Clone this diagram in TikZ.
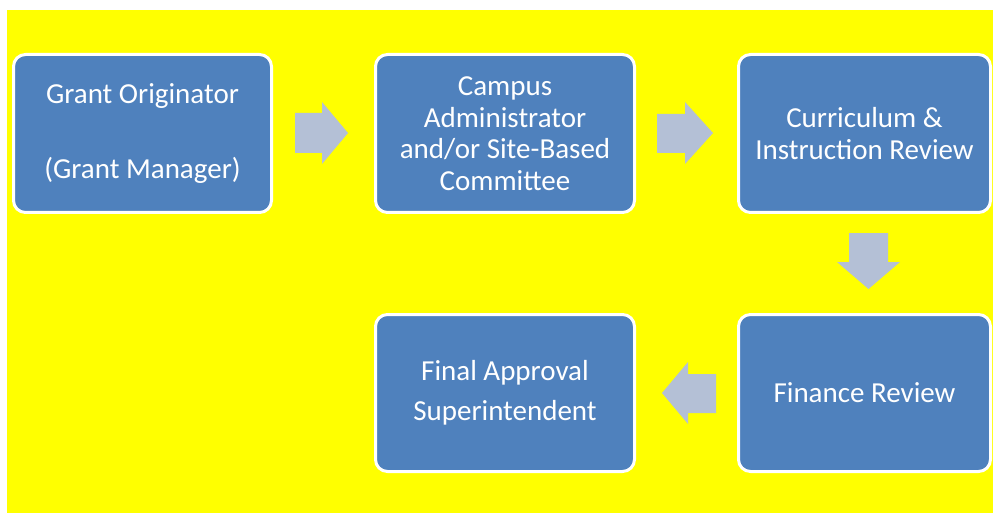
\documentclass[tikz,border=0pt]{standalone}
\usepackage{fontspec}
\setmainfont{Carlito}
\definecolor{boxblue}{RGB}{79,129,189}
\definecolor{arrowgray}{RGB}{180,192,214}
\definecolor{bgyellow}{RGB}{255,255,0}
\begin{document}
\begin{tikzpicture}[x=1pt,y=-1pt,
  stepbox/.style={rectangle, rounded corners=12pt, fill=boxblue, draw=white, line width=3pt,
    text=white, align=center, inner sep=0pt, outer sep=0pt,
    font=\fontsize{29}{31.5}\selectfont},
  blockarrow/.style={fill=arrowgray, draw=none}]
\useasboundingbox (0,0) rectangle (993,513);
\fill[white] (0,0) rectangle (993,513);
\fill[bgyellow] (7,10) rectangle (993,513);
\node[stepbox, minimum width=258pt, minimum height=158pt] (orig) at (142.5,133.5)
  {Grant Originator\\[43pt](Grant Manager)};
\node[stepbox, minimum width=259pt, minimum height=158pt] (campus) at (505,133.5)
  {Campus\\Administrator\\and/or Site-Based\\Committee};
\node[stepbox, minimum width=252pt, minimum height=158pt] (curr) at (864.5,133.5)
  {Curriculum \&\\Instruction Review};
\node[stepbox, minimum width=252pt, minimum height=157pt] (fin) at (864.5,393)
  {Finance Review};
\node[stepbox, minimum width=259pt, minimum height=157pt] (final) at (505,393)
  {Final Approval\\[8.5pt]Superintendent};
\fill[blockarrow] (295,113) -- (322,113) -- (322,102) -- (348,133) -- (322,164) -- (322,153) -- (295,153) -- cycle;
\fill[blockarrow] (657,114) -- (685,114) -- (685,102) -- (713,133) -- (685,164) -- (685,153) -- (657,153) -- cycle;
\fill[blockarrow] (849,233) -- (888,233) -- (888,262) -- (900,262) -- (868.5,289) -- (837,262) -- (849,262) -- cycle;
\fill[blockarrow] (716,374) -- (688,374) -- (688,362) -- (662,393) -- (688,424) -- (688,413) -- (716,413) -- cycle;
\end{tikzpicture}
\end{document}
